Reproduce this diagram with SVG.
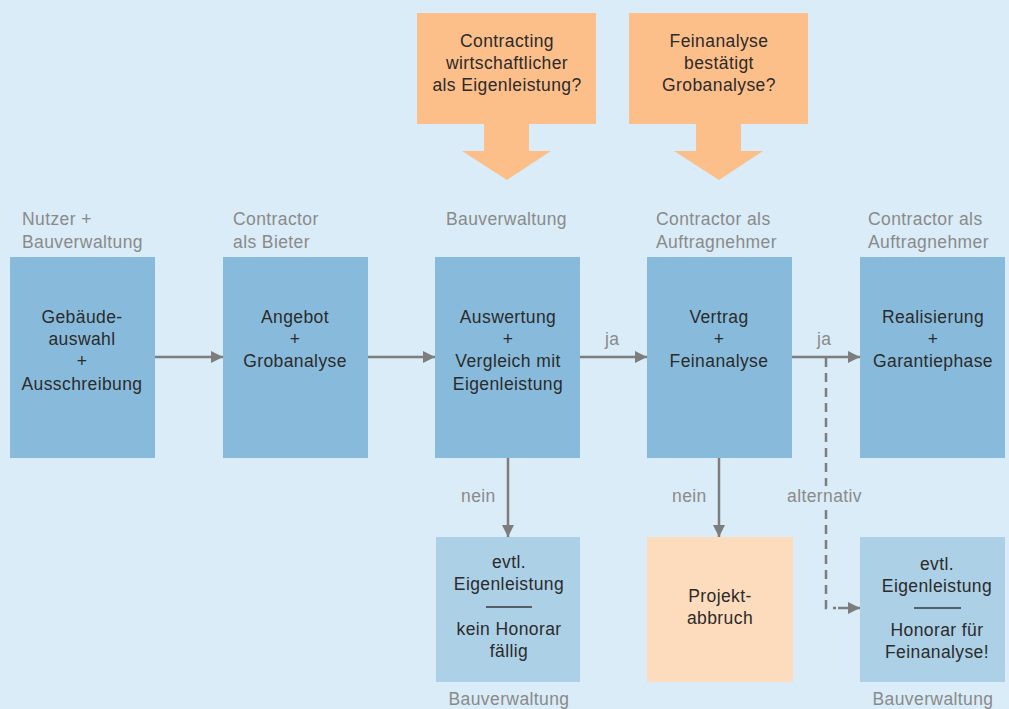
<svg xmlns="http://www.w3.org/2000/svg" width="1009" height="709" viewBox="0 0 1009 709">
<defs>
<style>
text{font-family:"Liberation Sans",Arial,sans-serif;font-size:17.5px;letter-spacing:0.4px}
.t{fill:#2b2b2b;text-anchor:middle}
.g{fill:#8a8a8a}
.gm{fill:#8a8a8a;text-anchor:middle}
.main{fill:#88bbdb}
.sub{fill:#acd0e6}
.or{fill:#fdbf8a}
.orl{fill:#fddcbd}
.c{stroke:#7d7d7d;stroke-width:2.5;fill:none}
</style>
<marker id="ah" viewBox="0 0 12 12" refX="12" refY="6" markerWidth="12" markerHeight="12" markerUnits="userSpaceOnUse" orient="auto">
<path d="M0,0 L12,6 L0,12 Z" fill="#7d7d7d"/>
</marker>
</defs>
<rect width="1009" height="709" fill="#d9ecf7"/>

<g id="q1">
<rect class="or" x="417" y="13" width="179" height="111"/>
<path class="or" d="M484,123 H529 V151 H551 L507,180 L462,151 H484 Z"/>
<text class="t" x="507" y="47">Contracting</text>
<text class="t" x="507" y="69">wirtschaftlicher</text>
<text class="t" x="507" y="91">als Eigenleistung?</text>
</g>
<g id="q2">
<rect class="or" x="629" y="13" width="179" height="111"/>
<path class="or" d="M696,123 H741 V151 H763 L719,180 L674,151 H696 Z"/>
<text class="t" x="719" y="47">Feinanalyse</text>
<text class="t" x="719" y="69">bestätigt</text>
<text class="t" x="719" y="91">Grobanalyse?</text>
</g>

<g id="connectors">
<line class="c" x1="155" y1="357" x2="223" y2="357" marker-end="url(#ah)"/>
<line class="c" x1="368" y1="357" x2="435" y2="357" marker-end="url(#ah)"/>
<line class="c" x1="580" y1="357" x2="647" y2="357" marker-end="url(#ah)"/>
<line class="c" x1="792" y1="357" x2="860" y2="357" marker-end="url(#ah)"/>
<line class="c" x1="508" y1="458" x2="508" y2="537" marker-end="url(#ah)"/>
<line class="c" x1="719" y1="458" x2="719" y2="537" marker-end="url(#ah)"/>
<path class="c" d="M826,358 V486 M826,510 V608 H836" stroke-dasharray="9,6"/>
<line class="c" x1="838" y1="608" x2="860" y2="608" marker-end="url(#ah)"/>
<text class="g" x="605" y="345">ja</text>
<text class="g" x="817" y="345">ja</text>
<text class="g" x="461" y="502">nein</text>
<text class="g" x="672" y="502">nein</text>
<text class="g" x="787" y="502">alternativ</text>
</g>

<g id="n1">
<text class="g" x="22" y="225">Nutzer +</text>
<text class="g" x="22" y="248">Bauverwaltung</text>
<rect class="main" x="10" y="257" width="145" height="201"/>
<text class="t" x="82" y="323">Gebäude-</text>
<text class="t" x="82" y="345">auswahl</text>
<text class="t" x="82" y="367">+</text>
<text class="t" x="82" y="390">Ausschreibung</text>
</g>
<g id="n2">
<text class="g" x="233" y="225">Contractor</text>
<text class="g" x="233" y="248">als Bieter</text>
<rect class="main" x="223" y="257" width="145" height="201"/>
<text class="t" x="295" y="323">Angebot</text>
<text class="t" x="295" y="345">+</text>
<text class="t" x="295" y="367">Grobanalyse</text>
</g>
<g id="n3">
<text class="g" x="446" y="225">Bauverwaltung</text>
<rect class="main" x="435" y="257" width="145" height="201"/>
<text class="t" x="508" y="323">Auswertung</text>
<text class="t" x="508" y="345">+</text>
<text class="t" x="508" y="367">Vergleich mit</text>
<text class="t" x="508" y="390">Eigenleistung</text>
</g>
<g id="n4">
<text class="g" x="656" y="225">Contractor als</text>
<text class="g" x="656" y="248">Auftragnehmer</text>
<rect class="main" x="647" y="257" width="145" height="201"/>
<text class="t" x="719" y="323">Vertrag</text>
<text class="t" x="719" y="345">+</text>
<text class="t" x="719" y="367">Feinanalyse</text>
</g>
<g id="n5">
<text class="g" x="868" y="225">Contractor als</text>
<text class="g" x="868" y="248">Auftragnehmer</text>
<rect class="main" x="860" y="257" width="145" height="201"/>
<text class="t" x="933" y="323">Realisierung</text>
<text class="t" x="933" y="345">+</text>
<text class="t" x="933" y="367">Garantiephase</text>
</g>
<g id="n6">
<rect class="sub" x="436" y="537" width="144" height="145"/>
<text class="t" x="509" y="568">evtl.</text>
<text class="t" x="509" y="590">Eigenleistung</text>
<line x1="486" y1="607" x2="532" y2="607" stroke="#3a3a3a" stroke-width="1.5"/>
<text class="t" x="509" y="635">kein Honorar</text>
<text class="t" x="509" y="657">fällig</text>
<text class="gm" x="509" y="705">Bauverwaltung</text>
</g>
<g id="n7">
<rect class="orl" x="647" y="537" width="146" height="145"/>
<text class="t" x="720" y="602">Projekt-</text>
<text class="t" x="720" y="624">abbruch</text>
</g>
<g id="n8">
<rect class="sub" x="860" y="537" width="145" height="145"/>
<text class="t" x="937" y="570">evtl.</text>
<text class="t" x="937" y="592">Eigenleistung</text>
<line x1="914" y1="608" x2="961" y2="608" stroke="#3a3a3a" stroke-width="1.5"/>
<text class="t" x="937" y="636">Honorar für</text>
<text class="t" x="937" y="658">Feinanalyse!</text>
<text class="gm" x="933" y="705">Bauverwaltung</text>
</g>
</svg>
